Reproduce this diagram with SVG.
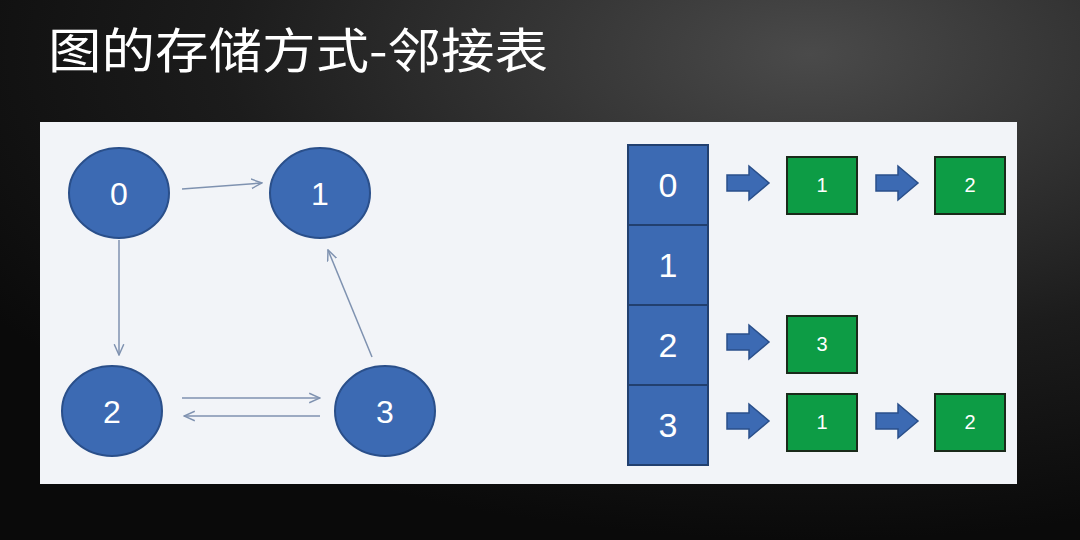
<svg xmlns="http://www.w3.org/2000/svg" width="1080" height="540" viewBox="0 0 1080 540">
<defs>
<radialGradient id="bg" cx="0.75" cy="0.1" r="0.9"><stop offset="0" stop-color="#4a4a4a"/><stop offset="0.6" stop-color="#1c1c1c"/><stop offset="1" stop-color="#0a0a0a"/></radialGradient>
<marker id="ah" viewBox="0 0 10 10" refX="9" refY="5" markerWidth="8" markerHeight="8" orient="auto"><path d="M0,1 L9,5 L0,9" fill="none" stroke="#7f92b0" stroke-width="1.2"/></marker>
<path id="ba" d="M0,-8 H22 V-17 L42,0 L22,17 V8 H0 Z"/>
</defs>
<style>
.n{fill:#3c6ab3;stroke:#2a4f8a;stroke-width:2}
.c{fill:#3c6ab3;stroke:#22406f;stroke-width:2}
.g{fill:#0d9c45;stroke:#1a2a1a;stroke-width:2}
.t{font-family:"Liberation Sans",Arial,sans-serif;fill:#fff;text-anchor:middle}
.e{stroke:#7f92b0;stroke-width:1.5;fill:none;marker-end:url(#ah)}
.b{fill:#3c6ab3;stroke:#2a4f8a;stroke-width:1.5}
</style>
<rect width="1080" height="540" fill="url(#bg)"/>
<text x="48" y="68" font-family="'Noto Sans CJK SC',sans-serif" font-size="48" fill="#fff" textLength="500" lengthAdjust="spacingAndGlyphs">图的存储方式-邻接表</text>
<rect x="40" y="122" width="977" height="362" fill="#f2f4f8"/>
<g id="connectors">
<line class="e" x1="182" y1="189" x2="262" y2="183"/>
<line class="e" x1="119" y1="240" x2="119" y2="355"/>
<line class="e" x1="372" y1="357" x2="328" y2="250"/>
<line class="e" x1="182" y1="398" x2="320" y2="398"/>
<line class="e" x1="320" y1="416" x2="184" y2="416"/>
</g>
<g id="node0"><ellipse class="n" cx="119" cy="193" rx="50" ry="45"/><text class="t" x="119" y="205" font-size="32">0</text></g>
<g id="node1"><ellipse class="n" cx="320" cy="193" rx="50" ry="45"/><text class="t" x="320" y="205" font-size="32">1</text></g>
<g id="node2"><ellipse class="n" cx="112" cy="411" rx="50" ry="45"/><text class="t" x="112" y="423" font-size="32">2</text></g>
<g id="node3"><ellipse class="n" cx="385" cy="411" rx="50" ry="45"/><text class="t" x="385" y="423" font-size="32">3</text></g>
<g id="arr0"><rect class="c" x="628" y="145" width="80" height="80"/><text class="t" x="668" y="197" font-size="34">0</text></g>
<g id="arr1"><rect class="c" x="628" y="225" width="80" height="80"/><text class="t" x="668" y="277" font-size="34">1</text></g>
<g id="arr2"><rect class="c" x="628" y="305" width="80" height="80"/><text class="t" x="668" y="357" font-size="34">2</text></g>
<g id="arr3"><rect class="c" x="628" y="385" width="80" height="80"/><text class="t" x="668" y="437" font-size="34">3</text></g>
<g id="blockarrows">
<use href="#ba" class="b" x="727" y="183"/>
<use href="#ba" class="b" x="876" y="183"/>
<use href="#ba" class="b" x="727" y="342"/>
<use href="#ba" class="b" x="727" y="421"/>
<use href="#ba" class="b" x="876" y="421"/>
</g>
<g id="l0a"><rect class="g" x="787" y="157" width="70" height="57"/><text class="t" x="822" y="192" font-size="20">1</text></g>
<g id="l0b"><rect class="g" x="935" y="157" width="70" height="57"/><text class="t" x="970" y="192" font-size="20">2</text></g>
<g id="l2a"><rect class="g" x="787" y="316" width="70" height="57"/><text class="t" x="822" y="351" font-size="20">3</text></g>
<g id="l3a"><rect class="g" x="787" y="394" width="70" height="57"/><text class="t" x="822" y="429" font-size="20">1</text></g>
<g id="l3b"><rect class="g" x="935" y="394" width="70" height="57"/><text class="t" x="970" y="429" font-size="20">2</text></g>
</svg>
